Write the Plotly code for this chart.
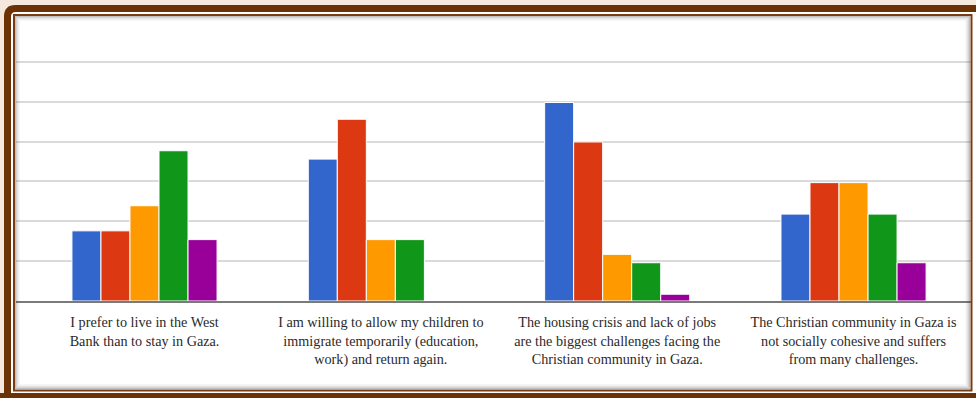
import plotly.graph_objects as go

# Survey statements (x categories)
statements = [
    "I prefer to live in the West<br>Bank than to stay in Gaza.",
    "I am willing to allow my children to<br>immigrate temporarily (education,<br>work) and return again.",
    "The housing crisis and lack of jobs<br>are the biggest challenges facing the<br>Christian community in Gaza.",
    "The Christian community in Gaza is<br>not socially cohesive and suffers<br>from many challenges.",
]

# Response shares per answer option (%)
strongly_agree = [17.6, 35.6, 49.8, 21.8]
agree = [17.6, 45.6, 39.9, 29.7]
neutral = [23.9, 15.4, 11.7, 29.7]
disagree = [37.7, 15.4, 9.6, 21.8]
strongly_disagree = [15.4, 0.0, 1.7, 9.6]

series = [
    ("Strongly agree", strongly_agree, "#3366cc"),
    ("Agree", agree, "#dc3912"),
    ("Neutral", neutral, "#ff9900"),
    ("Disagree", disagree, "#109618"),
    ("Strongly disagree", strongly_disagree, "#990099"),
]

W, H = 976, 398
xs = list(range(len(statements)))

fig = go.Figure()
for name, vals, color in series:
    fig.add_trace(go.Bar(
        x=xs, y=vals, name=name,
        marker=dict(color=color, line=dict(color="white", width=1)),
    ))


def fx(p):
    return p / W


def fy(p):
    return 1 - p / H


shapes = []
# white card behind the chart, inside the brown frame
shapes.append(dict(type="rect", xref="paper", yref="paper", layer="below",
                   x0=fx(6), x1=fx(1000), y0=fy(397), y1=fy(7),
                   fillcolor="white", line=dict(width=0)))

# thick outer brown border with a rounded corner
x0, y0, x1, y1, r = 7.5, 8.5, 1000, 396, 8
path = (f"M {fx(x0)},{fy(y1)} L {fx(x0)},{fy(y0 + r)} "
        f"Q {fx(x0)},{fy(y0)} {fx(x0 + r)},{fy(y0)} L {fx(x1)},{fy(y0)}")
shapes.append(dict(type="path", xref="paper", yref="paper", layer="above",
                   path=path, line=dict(color="#6b3206", width=7)))
shapes.append(dict(type="line", xref="paper", yref="paper", layer="above",
                   x0=fx(0), x1=fx(1000), y0=fy(396), y1=fy(396),
                   line=dict(color="#6b3206", width=6)))

# inset shadow just inside the thin line
for i, a in enumerate([0.32, 0.22, 0.14, 0.08, 0.04]):
    shapes.append(dict(type="rect", xref="paper", yref="paper", layer="above",
                       x0=fx(14 + i + 1.5), x1=fx(971 - i - 1.5),
                       y0=fy(390 - i - 1.5), y1=fy(15 + i + 1.5),
                       line=dict(color=f"rgba(60,60,60,{a})", width=1)))

# thin inner brown line
shapes.append(dict(type="rect", xref="paper", yref="paper", layer="above",
                   x0=fx(14), x1=fx(971.5), y0=fy(390.5), y1=fy(15),
                   line=dict(color="#7a3c10", width=2)))

fig.update_layout(
    width=W, height=H,
    margin=dict(l=0, r=0, t=0, b=0),
    paper_bgcolor="#f4e9dc",
    plot_bgcolor="white",
    showlegend=False,
    barmode="group",
    bargap=0.386,
    bargroupgap=0,
    shapes=shapes,
    xaxis=dict(
        domain=[fx(16), fx(971.7)],
        range=[-0.5437, 3.5],
        tickvals=xs, ticktext=statements,
        tickfont=dict(family="Liberation Serif", size=14.2, color="#2a2a2a"),
        showgrid=False, zeroline=False,
        showline=True, linecolor="#7a7a7a", linewidth=2,
        ticks="", ticklabelstandoff=7,
    ),
    yaxis=dict(
        domain=[fy(301), fy(24)],
        range=[0, 69.5],
        dtick=10,
        showticklabels=False,
        gridcolor="#dadada", gridwidth=1.5,
        zeroline=False,
    ),
)

fig.write_html("out.html")
